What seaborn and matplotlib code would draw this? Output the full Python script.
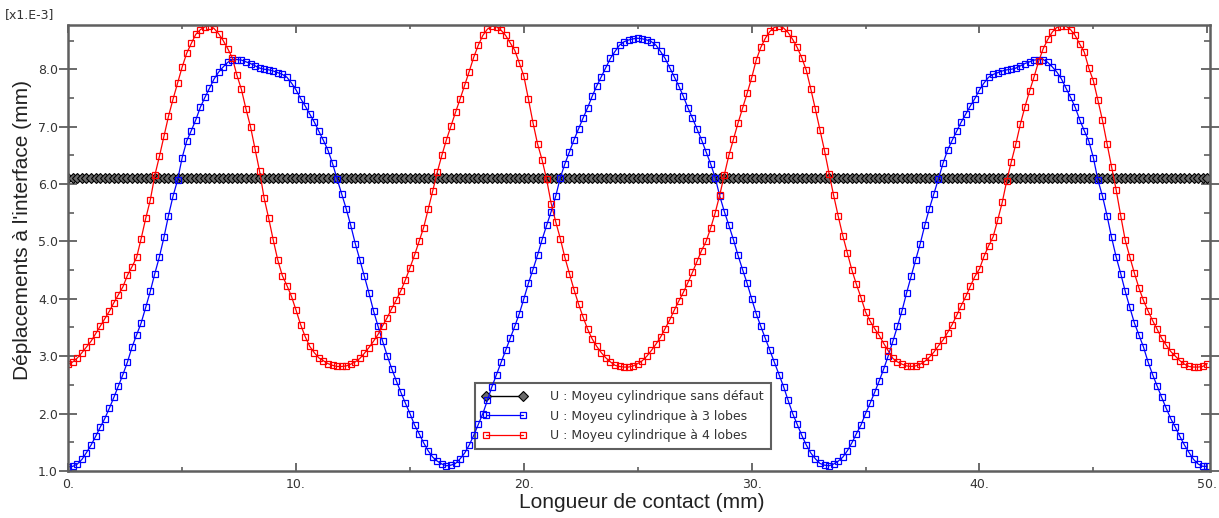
import numpy as np
import pandas as pd
import matplotlib
matplotlib.use("Agg")
import matplotlib.pyplot as plt
from matplotlib.ticker import MultipleLocator, FixedLocator, FixedFormatter
import seaborn as sns

# Displacement at the interface (x1e-3 mm), sampled every 0.2 mm of contact length
blue_3_lobes = [
    1.07, 1.08, 1.12, 1.20, 1.32, 1.45, 1.60, 1.76, 1.91, 2.09,
    2.28, 2.48, 2.68, 2.90, 3.16, 3.37, 3.58, 3.85, 4.13, 4.44,
    4.73, 5.07, 5.45, 5.79, 6.07, 6.46, 6.75, 6.93, 7.12, 7.34,
    7.51, 7.67, 7.83, 7.95, 8.04, 8.12, 8.17, 8.17, 8.16, 8.13,
    8.10, 8.06, 8.02, 8.00, 7.99, 7.97, 7.94, 7.91, 7.86, 7.76,
    7.64, 7.49, 7.36, 7.22, 7.08, 6.92, 6.76, 6.59, 6.36, 6.09,
    5.83, 5.57, 5.28, 4.96, 4.68, 4.39, 4.10, 3.79, 3.52, 3.26,
    3.01, 2.78, 2.57, 2.37, 2.18, 2.00, 1.80, 1.65, 1.49, 1.35,
    1.24, 1.17, 1.12, 1.09, 1.10, 1.13, 1.21, 1.31, 1.45, 1.62,
    1.81, 2.00, 2.23, 2.47, 2.68, 2.89, 3.10, 3.31, 3.52, 3.74,
    4.00, 4.27, 4.51, 4.76, 5.03, 5.28, 5.52, 5.79, 6.11, 6.35,
    6.56, 6.77, 6.96, 7.15, 7.33, 7.53, 7.71, 7.87, 8.03, 8.19,
    8.31, 8.42, 8.48, 8.51, 8.53, 8.54,
    8.53, 8.51, 8.48, 8.42, 8.31, 8.19, 8.03, 7.87, 7.71, 7.53,
    7.33, 7.15, 6.96, 6.77, 6.56, 6.35, 6.11, 5.79, 5.52, 5.28,
    5.03, 4.76, 4.51, 4.27, 4.00, 3.74, 3.52, 3.31, 3.10, 2.89,
    2.68, 2.47, 2.23, 2.00, 1.81, 1.62, 1.45, 1.31, 1.21, 1.13,
    1.10, 1.09, 1.12, 1.17, 1.24, 1.35, 1.49, 1.65, 1.80, 2.00,
    2.18, 2.37, 2.57, 2.78, 3.01, 3.26, 3.52, 3.79, 4.10, 4.39,
    4.68, 4.96, 5.28, 5.57, 5.83, 6.09, 6.36, 6.59, 6.76, 6.92,
    7.08, 7.22, 7.36, 7.49, 7.64, 7.76, 7.86, 7.91, 7.94, 7.97,
    7.99, 8.00, 8.02, 8.06, 8.10, 8.13, 8.16, 8.17, 8.17, 8.12,
    8.04, 7.95, 7.83, 7.67, 7.51, 7.34, 7.12, 6.93, 6.75, 6.46,
    6.07, 5.79, 5.45, 5.07, 4.73, 4.44, 4.13, 3.85, 3.58, 3.37,
    3.16, 2.90, 2.68, 2.48, 2.28, 2.09, 1.91, 1.76, 1.60, 1.45,
    1.32, 1.20, 1.12, 1.08, 1.08,
]

red_4_lobes = [
    2.86, 2.90, 2.97, 3.06, 3.16, 3.26, 3.39, 3.52, 3.65, 3.78,
    3.93, 4.07, 4.21, 4.41, 4.56, 4.72, 5.05, 5.40, 5.72, 6.15,
    6.48, 6.83, 7.18, 7.48, 7.76, 8.04, 8.28, 8.45, 8.61, 8.69,
    8.74, 8.76, 8.71, 8.62, 8.50, 8.36, 8.20, 7.90, 7.65, 7.31,
    7.00, 6.61, 6.22, 5.75, 5.40, 5.02, 4.67, 4.40, 4.23, 4.04,
    3.80, 3.55, 3.34, 3.17, 3.06, 2.97, 2.92, 2.87, 2.84, 2.82,
    2.82, 2.83, 2.86, 2.90, 2.96, 3.05, 3.15, 3.26, 3.38, 3.53,
    3.67, 3.83, 3.98, 4.14, 4.33, 4.54, 4.76, 5.00, 5.24, 5.56,
    5.88, 6.21, 6.50, 6.77, 7.01, 7.25, 7.48, 7.72, 7.96, 8.21,
    8.42, 8.59, 8.70, 8.75, 8.74, 8.68, 8.59, 8.46, 8.33, 8.11,
    7.88, 7.48, 7.07, 6.70, 6.42, 6.08, 5.66, 5.34, 5.05, 4.72,
    4.44, 4.16, 3.91, 3.68, 3.47, 3.30, 3.17, 3.06, 2.97, 2.90,
    2.84, 2.82, 2.81, 2.81, 2.83, 2.87, 2.92, 3.00, 3.10, 3.21,
    3.33, 3.48, 3.63, 3.80, 3.96, 4.11, 4.28, 4.46, 4.65, 4.84,
    5.00, 5.23, 5.50, 5.81, 6.16, 6.50, 6.78, 7.06, 7.32, 7.58,
    7.85, 8.16, 8.38, 8.54, 8.66, 8.73, 8.75, 8.72, 8.64, 8.52,
    8.38, 8.20, 7.98, 7.65, 7.30, 6.94, 6.58, 6.18, 5.80, 5.44,
    5.10, 4.80, 4.50, 4.25, 4.02, 3.77, 3.61, 3.48, 3.36, 3.22,
    3.09, 2.96, 2.90, 2.86, 2.83, 2.82, 2.83, 2.86, 2.91, 2.98,
    3.07, 3.18, 3.28, 3.41, 3.55, 3.71, 3.88, 4.04, 4.22, 4.39,
    4.52, 4.74, 4.92, 5.08, 5.37, 5.68, 6.06, 6.39, 6.70, 7.05,
    7.35, 7.62, 7.87, 8.14, 8.36, 8.52, 8.65, 8.73, 8.75, 8.75,
    8.69, 8.59, 8.44, 8.30, 8.02, 7.80, 7.46, 7.11, 6.70, 6.30,
    5.90, 5.45, 5.02, 4.73, 4.45, 4.19, 3.97, 3.79, 3.62, 3.47,
    3.31, 3.19, 3.08, 3.00, 2.92, 2.86, 2.82, 2.81, 2.81, 2.82,
    2.87,
]

black_sans_defaut = [
    6.1, 6.1, 6.1, 6.1, 6.1, 6.1, 6.1, 6.1, 6.1, 6.1,
    6.1, 6.1, 6.1, 6.1, 6.1, 6.1, 6.1, 6.1, 6.1, 6.1,
    6.1, 6.1, 6.1, 6.1, 6.1, 6.1, 6.1, 6.1, 6.1, 6.1,
    6.1, 6.1, 6.1, 6.1, 6.1, 6.1, 6.1, 6.1, 6.1, 6.1,
    6.1, 6.1, 6.1, 6.1, 6.1, 6.1, 6.1, 6.1, 6.1, 6.1,
    6.1, 6.1, 6.1, 6.1, 6.1, 6.1, 6.1, 6.1, 6.1, 6.1,
    6.1, 6.1, 6.1, 6.1, 6.1, 6.1, 6.1, 6.1, 6.1, 6.1,
    6.1, 6.1, 6.1, 6.1, 6.1, 6.1, 6.1, 6.1, 6.1, 6.1,
    6.1, 6.1, 6.1, 6.1, 6.1, 6.1, 6.1, 6.1, 6.1, 6.1,
    6.1, 6.1, 6.1, 6.1, 6.1, 6.1, 6.1, 6.1, 6.1, 6.1,
    6.1, 6.1, 6.1, 6.1, 6.1, 6.1, 6.1, 6.1, 6.1, 6.1,
    6.1, 6.1, 6.1, 6.1, 6.1, 6.1, 6.1, 6.1, 6.1, 6.1,
    6.1, 6.1, 6.1, 6.1, 6.1, 6.1, 6.1, 6.1, 6.1, 6.1,
    6.1, 6.1, 6.1, 6.1, 6.1, 6.1, 6.1, 6.1, 6.1, 6.1,
    6.1, 6.1, 6.1, 6.1, 6.1, 6.1, 6.1, 6.1, 6.1, 6.1,
    6.1, 6.1, 6.1, 6.1, 6.1, 6.1, 6.1, 6.1, 6.1, 6.1,
    6.1, 6.1, 6.1, 6.1, 6.1, 6.1, 6.1, 6.1, 6.1, 6.1,
    6.1, 6.1, 6.1, 6.1, 6.1, 6.1, 6.1, 6.1, 6.1, 6.1,
    6.1, 6.1, 6.1, 6.1, 6.1, 6.1, 6.1, 6.1, 6.1, 6.1,
    6.1, 6.1, 6.1, 6.1, 6.1, 6.1, 6.1, 6.1, 6.1, 6.1,
    6.1, 6.1, 6.1, 6.1, 6.1, 6.1, 6.1, 6.1, 6.1, 6.1,
    6.1, 6.1, 6.1, 6.1, 6.1, 6.1, 6.1, 6.1, 6.1, 6.1,
    6.1, 6.1, 6.1, 6.1, 6.1, 6.1, 6.1, 6.1, 6.1, 6.1,
    6.1, 6.1, 6.1, 6.1, 6.1, 6.1, 6.1, 6.1, 6.1, 6.1,
    6.1, 6.1, 6.1, 6.1, 6.1, 6.1, 6.1, 6.1, 6.1, 6.1,
    6.1,
]

labels = [
    "U : Moyeu cylindrique sans défaut",
    "U : Moyeu cylindrique à 3 lobes",
    "U : Moyeu cylindrique à 4 lobes",
]
x_ticks = [0, 10, 20, 30, 40, 50]
x_tick_labels = ["0.", "10.", "20.", "30.", "40.", "50."]
y_ticks = [1, 2, 3, 4, 5, 6, 7, 8]
y_tick_labels = ["1.0", "2.0", "3.0", "4.0", "5.0", "6.0", "7.0", "8.0"]

# contact length grid (0 to 50 mm, one node every 0.2 mm)
longueur = np.linspace(0, 50, len(blue_3_lobes))

df = pd.DataFrame({
    "x": np.concatenate([longueur, longueur, longueur]),
    "y": black_sans_defaut + blue_3_lobes + red_4_lobes,
    "serie": [labels[0]] * len(longueur) + [labels[1]] * len(longueur) + [labels[2]] * len(longueur),
})

sns.set_style("white")
plt.rcParams["font.family"] = ["DejaVu Sans"]

fig = plt.figure(figsize=(12.19, 5.18), dpi=100)
ax = fig.add_axes([0.056, 0.0898, 0.9366, 0.8629])

gray = "#5f5f5f"

# black reference line (no defect)
sns.lineplot(data=df[df.serie == labels[0]], x="x", y="y", ax=ax, color="black",
             linewidth=1.0, marker="D", markersize=4.6, markerfacecolor="#6a6a6a",
             markeredgecolor="black", markeredgewidth=0.8, label=labels[0])
# 3-lobe hub
sns.lineplot(data=df[df.serie == labels[1]], x="x", y="y", ax=ax, color="blue",
             linewidth=0.9, marker="s", markersize=3.8, markerfacecolor="none",
             markeredgecolor="blue", markeredgewidth=0.9, label=labels[1])
# 4-lobe hub
sns.lineplot(data=df[df.serie == labels[2]], x="x", y="y", ax=ax, color="red",
             linewidth=0.9, marker="s", markersize=3.8, markerfacecolor="none",
             markeredgecolor="red", markeredgewidth=0.9, label=labels[2])

ax.set_xlim(0, 50.12)
ax.set_ylim(0.99, 8.78)

ax.xaxis.set_major_locator(FixedLocator(x_ticks))
ax.xaxis.set_major_formatter(FixedFormatter(x_tick_labels))
ax.xaxis.set_minor_locator(MultipleLocator(5))
ax.yaxis.set_major_locator(FixedLocator(y_ticks))
ax.yaxis.set_major_formatter(FixedFormatter(y_tick_labels))
ax.yaxis.set_minor_locator(MultipleLocator(0.5))

ax.tick_params(axis="x", which="major", direction="in", length=6, width=1.3, color=gray,
               top=True, bottom=True, labelsize=9, labelcolor="#333333", pad=5)
ax.tick_params(axis="x", which="minor", direction="in", length=3, width=1.2, color=gray,
               top=True, bottom=True)
ax.tick_params(axis="y", which="major", direction="inout", length=13, width=1.3, color=gray,
               left=True, right=True, labelsize=9, labelcolor="#333333", pad=1)
ax.tick_params(axis="y", which="minor", direction="in", length=4, width=1.2, color=gray,
               left=True, right=True)

for side in ["left", "right", "top", "bottom"]:
    ax.spines[side].set_color(gray)
    ax.spines[side].set_linewidth(1.8)
    ax.spines[side].set_visible(True)

ax.set_xlabel("Longueur de contact (mm)", fontsize=15, family=["Liberation Sans"],
              color="#222222", va="center")
ax.set_ylabel("Déplacements à l'interface (mm)", fontsize=15, family=["Liberation Sans"],
              color="#222222", va="center")
ax.xaxis.set_label_coords(0.5025, -0.0705)
ax.yaxis.set_label_coords(-0.0405, 0.54)

fig.text(5 / 1219, 1 - 15 / 518, "[x1.E-3]", fontsize=9, color="#333333",
         ha="left", va="center")

leg = ax.legend(loc="upper left", bbox_to_anchor=(0.356, 0.198), borderaxespad=0,
                fontsize=9, frameon=True, fancybox=False, framealpha=1,
                edgecolor=gray, numpoints=2, handlelength=3.6, handletextpad=1.8,
                labelspacing=0.5, borderpad=0.6)
leg.get_frame().set_linewidth(1.5)
leg.set_zorder(1.5)  # curves pass over the legend box, as in the original
for t in leg.get_texts():
    t.set_color("#333333")

fig.savefig("out.png", dpi=100)
